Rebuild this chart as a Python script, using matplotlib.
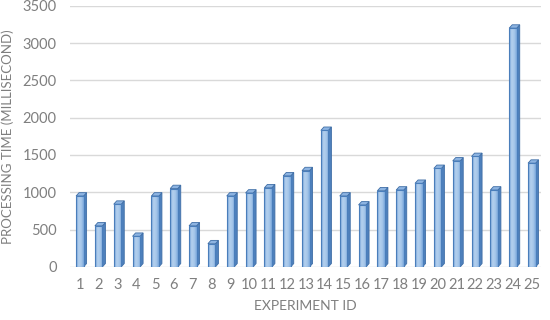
import numpy as np
import matplotlib.pyplot as plt
from matplotlib.patches import Polygon, Rectangle
from matplotlib.colors import LinearSegmentedColormap

plt.rcParams['font.family'] = ['Lato', 'DejaVu Sans']

# experiment ids and processing times (ms)
exp_ids = list(range(1, 26))
proc_time = [950, 550, 840, 410, 950, 1050, 550, 310, 950, 990,
             1060, 1220, 1290, 1830, 950, 830, 1020, 1030, 1120, 1320,
             1420, 1480, 1030, 3200, 1390]
y_ticks = [0, 500, 1000, 1500, 2000, 2500, 3000, 3500]

fig = plt.figure(figsize=(5.5, 3.2), dpi=100)
ax = fig.add_axes([0.128, 0.166, 0.856, 0.816])

# gridlines
ax.set_yticks(y_ticks)
ax.yaxis.grid(True, color='#d9d9d9', lw=1.0)
ax.set_axisbelow(True)
for s in ax.spines.values():
    s.set_visible(False)
ax.tick_params(length=0, colors='#7f7f7f', labelsize=10.5)
ax.tick_params(axis='y', pad=10)
ax.tick_params(axis='x', pad=8)
ax.set_xticks(exp_ids)
ax.set_xticklabels([str(i) for i in exp_ids])

# 3d-ish columns: gradient front, darker side and top
w = 0.4
dx = 0.16   # depth in x (data units)
dy = 45     # depth in y (data units)
grad = np.linspace(0, 1, 64).reshape(1, -1)
cmap = LinearSegmentedColormap.from_list('b', ['#6f9fd6', '#b4d0ee', '#a7c7ea', '#7aa7db'])
for x, v in zip(exp_ids, proc_time):
    x0 = x - w / 2
    x1 = x + w / 2
    side = Polygon([(x1, 0), (x1 + dx, dy), (x1 + dx, v + dy), (x1, v)],
                   closed=True, fc='#4f81bd', ec='#3f6ea6', lw=0.6, zorder=3)
    ax.add_patch(side)
    top = Polygon([(x0, v), (x0 + dx, v + dy), (x1 + dx, v + dy), (x1, v)],
                  closed=True, fc='#8db4e2', ec='#3f6ea6', lw=0.6, zorder=3)
    ax.add_patch(top)
    rect = Rectangle((x0, 0), w, v, fc='none', ec='#4a7ebb', lw=0.8, zorder=4)
    ax.add_patch(rect)
    im = ax.imshow(grad, cmap=cmap, extent=(x0, x1, 0, v), aspect='auto', zorder=3.5)
    im.set_clip_path(rect)

ax.set_xlim(0.5, 25.5)
ax.set_ylim(0, 3500)

ax.set_xlabel('EXPERIMENT ID', color='#7f7f7f', fontsize=10, labelpad=6)
ax.set_ylabel('PROCESSING TIME (MILLISECOND)', color='#7f7f7f', fontsize=9.5, labelpad=6)

fig.savefig('out.png', dpi=100)
